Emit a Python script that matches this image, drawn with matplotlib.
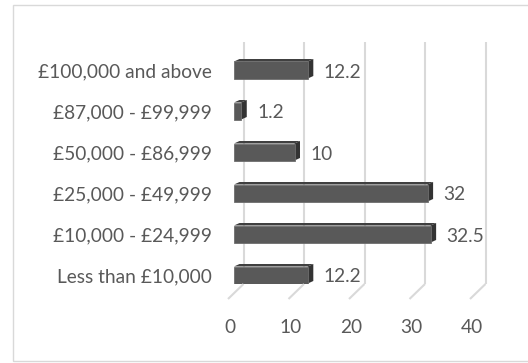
import matplotlib
matplotlib.use("Agg")
import matplotlib.pyplot as plt
from matplotlib.patches import Polygon, Rectangle
from matplotlib.lines import Line2D
from matplotlib.transforms import ScaledTranslation

categories = ["Less than £10,000", "£10,000 - £24,999", "£25,000 - £49,999",
              "£50,000 - £86,999", "£87,000 - £99,999", "£100,000 and above"]
values = [12.2, 32.5, 32, 10, 1.2, 12.2]
value_labels = ["12.2", "32.5", "32", "10", "1.2", "12.2"]
xticks = [0, 10, 20, 30, 40]

W, H = 528, 363
DPI = 100
plt.rcParams['font.family'] = ['Lato', 'DejaVu Sans']
TXT = '#595959'
FS = 13.8

fig = plt.figure(figsize=(W / DPI, H / DPI), dpi=DPI)
fig.patch.set_facecolor('white')

# chart border
fig.add_artist(Rectangle((13 / W, 1 - 361 / H), (W + 5 - 13) / W, (361 - 5) / H,
                         transform=fig.transFigure, fill=False,
                         edgecolor='#d9d9d9', lw=1.0))

px_per_unit = 6.05
ax_left, ax_right, ax_top, ax_bot = 234, 488, 42, 284
ax = fig.add_axes([ax_left / W, 1 - ax_bot / H, (ax_right - ax_left) / W, (ax_bot - ax_top) / H])
xmax = (ax_right - ax_left) / px_per_unit
ax.set_xlim(0, xmax)
ypx = 41.0
ax.set_ylim(-(ax_bot - 275) / ypx, 5 + (70 - ax_top) / ypx)
for s in ax.spines.values():
    s.set_visible(False)
ax.patch.set_alpha(0)

# back-wall gridlines (offset behind bars) and floor diagonals
back = ax.get_xaxis_transform() + ScaledTranslation(9.5 / DPI, 0, fig.dpi_scale_trans)
for v in xticks:
    ax.plot([v, v], [0, 1], transform=back, color='#d9d9d9', lw=1.5,
            solid_capstyle='butt', zorder=0, clip_on=False)
    p0 = ax.transData.transform((v, ax.get_ylim()[0]))
    x0 = p0[0] + 9.5
    y0 = p0[1]
    fig.add_artist(Line2D([x0, x0 - 15.5], [y0, y0 - 15], transform=None,
                          color='#d9d9d9', lw=1.5, solid_capstyle='butt'))

ax.set_xticks(xticks)
ax.set_xticklabels([str(t) for t in xticks])
ax.tick_params(axis='x', length=0, pad=25, labelsize=FS, labelcolor=TXT)
for lab in ax.get_xticklabels():
    lab.set_transform(lab.get_transform() + ScaledTranslation(-4 / DPI, 0, fig.dpi_scale_trans))

ypos = list(range(len(categories)))
ax.set_yticks(ypos)
ax.set_yticklabels(categories)
ax.tick_params(axis='y', length=0, pad=16, labelsize=FS, labelcolor=TXT)

h = 17 / ypx
dx = 5.5 / px_per_unit
dy = 2.5 / ypx
front = '#595959'
topc = '#404040'
sidec = '#333333'
ax.barh(ypos, values, height=h, color=front, edgecolor='#6e6e6e', lw=0.6, zorder=3)
for y, v, lab in zip(ypos, values, value_labels):
    top = Polygon([(0, y + h / 2), (v, y + h / 2), (v + dx, y + h / 2 + dy), (dx, y + h / 2 + dy)],
                  closed=True, facecolor=topc, edgecolor='none', zorder=2, clip_on=False)
    side = Polygon([(v, y - h / 2), (v, y + h / 2), (v + dx, y + h / 2 + dy), (v + dx, y - h / 2 + dy)],
                   closed=True, facecolor=sidec, edgecolor='none', zorder=2, clip_on=False)
    ax.add_patch(top)
    ax.add_patch(side)
    ax.annotate(lab, xy=(v, y), xytext=(16, -2), textcoords='offset pixels',
                ha='left', va='center', fontsize=FS, color=TXT, annotation_clip=False)

fig.savefig('out.png', dpi=DPI, facecolor='white')
